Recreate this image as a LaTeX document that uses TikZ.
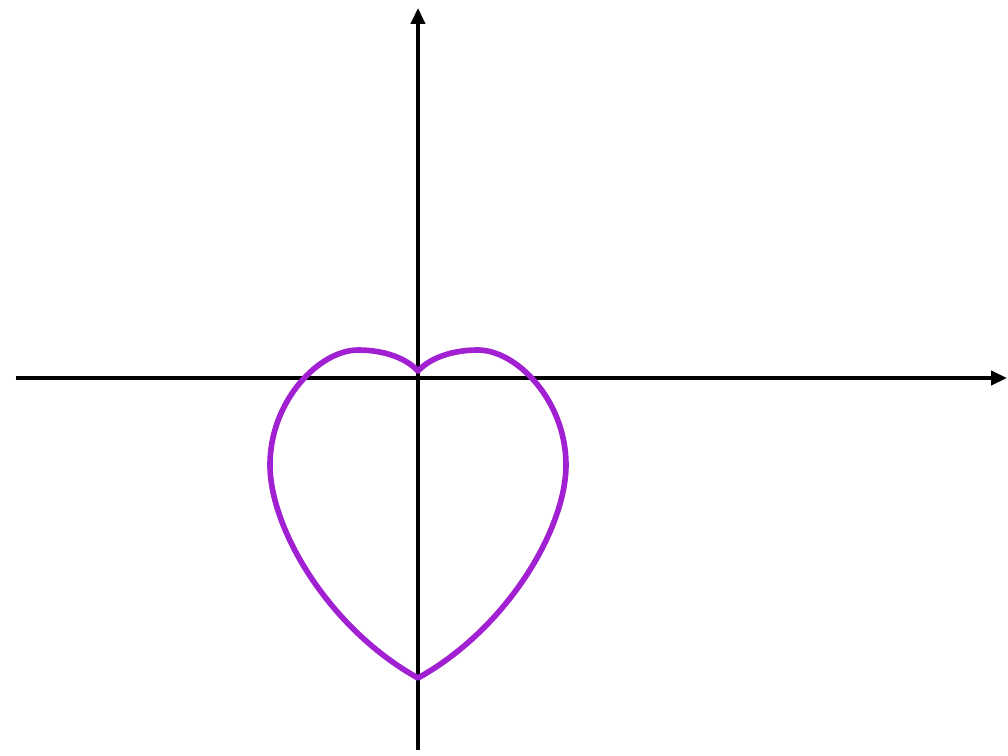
\documentclass[tikz,border=0pt]{standalone}
\usetikzlibrary{arrows.meta}
\definecolor{heartpurple}{RGB}{160,32,210}
\tikzset{
  axis/.style={line width=1.9pt, -{Triangle[length=9pt,width=8pt]}},
  heartline/.style={draw=heartpurple, line width=3.2pt, line join=round}
}
\begin{document}
\begin{tikzpicture}[x=0.02cm,y=0.02cm]
  \useasboundingbox (-418,-377) rectangle (590,378);
  \coordinate (xstart) at (-402,0);
  \coordinate (xend) at (589,0);
  \coordinate (ystart) at (0,-372);
  \coordinate (yend) at (0,370);
  \draw[axis] (xstart) -- (xend);
  \draw[axis] (ystart) -- (yend);
  \draw[heartline] (0,7) .. controls (14,22) and (38,28) .. (60,28)
    .. controls (98,28) and (148,-22) .. (148,-87)
    .. controls (148,-150) and (90,-250) .. (0,-300)
    .. controls (-90,-250) and (-148,-150) .. (-148,-87)
    .. controls (-148,-22) and (-98,28) .. (-60,28)
    .. controls (-38,28) and (-14,22) .. (0,7) -- cycle;
\end{tikzpicture}
\end{document}
